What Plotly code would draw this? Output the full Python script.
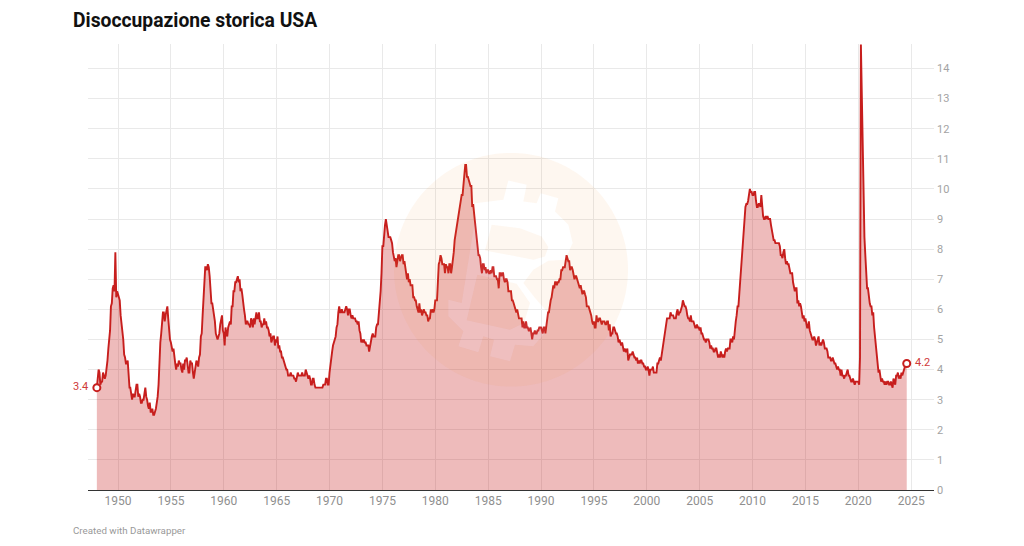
import numpy as np
import pandas as pd
import plotly.graph_objects as go

TITLE = "Disoccupazione storica USA"
CREDIT = "Created with Datawrapper"
START_MONTH = "1948-01-01"
RATE = [
3.4,3.8,4.0,3.9,3.5,3.6,3.6,3.9,3.8,3.7,3.8,4.0,
4.3,4.7,5.0,5.3,6.1,6.2,6.7,6.8,6.6,7.9,6.4,6.6,
6.5,6.4,6.3,5.8,5.5,5.4,5.0,4.5,4.4,4.2,4.2,4.3,
3.7,3.4,3.4,3.1,3.0,3.2,3.1,3.1,3.3,3.5,3.5,3.1,
3.2,3.1,2.9,2.9,3.0,3.0,3.2,3.4,3.1,3.0,2.8,2.7,
2.9,2.6,2.6,2.7,2.5,2.5,2.6,2.7,2.9,3.1,3.5,4.5,
4.9,5.2,5.7,5.9,5.9,5.6,5.8,6.0,6.1,5.7,5.3,5.0,
4.9,4.7,4.6,4.7,4.3,4.2,4.0,4.2,4.1,4.3,4.2,4.2,
4.0,3.9,4.2,4.0,4.3,4.3,4.4,4.1,3.9,3.9,4.3,4.2,
4.2,3.9,3.7,3.9,4.1,4.3,4.2,4.1,4.4,4.5,5.1,5.2,
5.8,6.4,6.7,7.4,7.4,7.3,7.5,7.4,7.1,6.7,6.2,6.2,
6.0,5.9,5.6,5.2,5.1,5.0,5.1,5.2,5.5,5.7,5.8,5.3,
5.2,4.8,5.4,5.2,5.1,5.4,5.5,5.6,5.5,6.1,6.1,6.6,
6.6,6.9,6.9,7.0,7.1,6.9,7.0,6.6,6.7,6.5,6.1,6.0,
5.8,5.5,5.6,5.6,5.5,5.5,5.4,5.7,5.6,5.4,5.7,5.5,
5.7,5.9,5.7,5.7,5.9,5.6,5.6,5.4,5.5,5.5,5.7,5.5,
5.6,5.4,5.4,5.3,5.1,5.2,4.9,5.0,5.1,5.1,4.8,5.0,
4.9,5.1,4.7,4.8,4.6,4.6,4.4,4.4,4.3,4.2,4.1,4.0,
4.0,3.8,3.8,3.8,3.9,3.8,3.8,3.8,3.7,3.7,3.6,3.8,
3.9,3.8,3.8,3.8,3.8,3.9,3.8,3.8,3.8,4.0,3.9,3.8,
3.7,3.8,3.7,3.5,3.5,3.7,3.7,3.5,3.4,3.4,3.4,3.4,
3.4,3.4,3.4,3.4,3.4,3.5,3.5,3.5,3.7,3.7,3.5,3.5,
3.9,4.2,4.4,4.6,4.8,4.9,5.0,5.1,5.4,5.5,5.9,6.1,
5.9,5.9,6.0,5.9,5.9,5.9,6.0,6.1,6.0,5.8,6.0,6.0,
5.8,5.7,5.8,5.7,5.7,5.7,5.6,5.6,5.5,5.6,5.3,5.2,
4.9,5.0,4.9,5.0,4.9,4.9,4.8,4.8,4.8,4.6,4.8,4.9,
5.1,5.2,5.1,5.1,5.1,5.4,5.5,5.5,5.9,6.0,6.6,7.2,
8.1,8.1,8.6,8.8,9.0,8.8,8.6,8.4,8.4,8.4,8.3,8.2,
7.9,7.7,7.6,7.7,7.4,7.6,7.8,7.8,7.6,7.7,7.8,7.8,
7.5,7.6,7.4,7.2,7.0,7.2,6.9,7.0,6.8,6.8,6.8,6.4,
6.4,6.3,6.3,6.1,6.0,5.9,6.2,5.9,6.0,5.8,5.9,6.0,
5.9,5.9,5.8,5.8,5.6,5.7,5.7,6.0,5.9,6.0,5.9,6.0,
6.3,6.3,6.3,6.9,7.5,7.6,7.8,7.7,7.5,7.5,7.5,7.2,
7.5,7.4,7.4,7.2,7.5,7.5,7.2,7.4,7.6,7.9,8.3,8.5,
8.6,8.9,9.0,9.3,9.4,9.6,9.8,9.8,10.1,10.4,10.8,10.8,
10.4,10.4,10.3,10.2,10.1,10.1,9.4,9.5,9.2,8.8,8.5,8.3,
8.0,7.8,7.8,7.7,7.4,7.2,7.5,7.5,7.3,7.4,7.2,7.3,
7.3,7.2,7.2,7.3,7.2,7.4,7.4,7.1,7.1,7.1,7.0,7.0,
6.7,7.2,7.2,7.1,7.2,7.2,7.0,6.9,7.0,7.0,6.9,6.6,
6.6,6.6,6.6,6.3,6.3,6.2,6.1,6.0,5.9,6.0,5.8,5.7,
5.7,5.7,5.7,5.4,5.6,5.4,5.4,5.6,5.4,5.4,5.3,5.3,
5.4,5.2,5.0,5.2,5.2,5.3,5.2,5.2,5.3,5.3,5.4,5.4,
5.4,5.3,5.2,5.4,5.4,5.2,5.5,5.7,5.9,5.9,6.2,6.3,
6.4,6.6,6.8,6.7,6.9,6.9,6.8,6.9,6.9,7.0,7.0,7.3,
7.3,7.4,7.4,7.4,7.6,7.8,7.7,7.6,7.6,7.3,7.4,7.4,
7.3,7.1,7.0,7.1,7.1,7.0,6.9,6.8,6.7,6.8,6.6,6.5,
6.6,6.6,6.5,6.4,6.1,6.1,6.1,6.0,5.9,5.8,5.6,5.5,
5.6,5.4,5.4,5.8,5.6,5.6,5.7,5.7,5.6,5.5,5.6,5.6,
5.6,5.5,5.5,5.6,5.6,5.3,5.5,5.1,5.2,5.2,5.4,5.4,
5.3,5.2,5.2,5.1,4.9,5.0,4.9,4.8,4.9,4.7,4.6,4.7,
4.6,4.6,4.7,4.3,4.4,4.5,4.5,4.5,4.6,4.5,4.4,4.4,
4.3,4.4,4.2,4.3,4.2,4.3,4.3,4.2,4.2,4.1,4.1,4.0,
4.0,4.1,4.0,3.8,4.0,4.0,4.0,4.1,3.9,3.9,3.9,3.9,
4.2,4.2,4.3,4.4,4.3,4.5,4.6,4.9,5.0,5.3,5.5,5.7,
5.7,5.7,5.7,5.9,5.8,5.8,5.8,5.7,5.7,5.7,5.9,6.0,
5.8,5.9,5.9,6.0,6.1,6.3,6.2,6.1,6.1,6.0,5.8,5.7,
5.7,5.6,5.8,5.6,5.6,5.6,5.5,5.4,5.4,5.5,5.4,5.4,
5.3,5.4,5.2,5.2,5.1,5.0,5.0,4.9,5.0,5.0,5.0,4.9,
4.7,4.8,4.7,4.7,4.6,4.6,4.7,4.7,4.5,4.4,4.5,4.4,
4.6,4.5,4.4,4.5,4.4,4.6,4.7,4.6,4.7,4.7,4.7,5.0,
5.0,4.9,5.1,5.0,5.4,5.6,5.8,6.1,6.1,6.5,6.8,7.3,
7.8,8.3,8.7,9.0,9.4,9.5,9.5,9.6,9.8,10.0,9.9,9.9,
9.8,9.8,9.9,9.9,9.6,9.4,9.4,9.5,9.5,9.4,9.8,9.3,
9.1,9.0,9.0,9.1,9.0,9.1,9.0,9.0,9.0,8.8,8.6,8.5,
8.3,8.3,8.2,8.2,8.2,8.2,8.2,8.1,7.8,7.8,7.7,7.9,
8.0,7.7,7.5,7.6,7.5,7.5,7.3,7.2,7.2,7.2,6.9,6.7,
6.6,6.7,6.7,6.2,6.3,6.1,6.2,6.1,5.9,5.7,5.8,5.6,
5.7,5.5,5.4,5.4,5.6,5.3,5.2,5.1,5.0,5.0,5.1,5.0,
4.8,4.9,5.0,5.1,4.8,4.9,4.8,4.9,5.0,4.9,4.7,4.7,
4.7,4.6,4.4,4.4,4.4,4.3,4.3,4.4,4.3,4.2,4.2,4.1,
4.0,4.1,4.0,4.0,3.8,4.0,3.8,3.8,3.7,3.8,3.8,3.9,
4.0,3.8,3.8,3.7,3.6,3.6,3.7,3.6,3.5,3.6,3.6,3.6,
3.6,3.5,4.4,14.8,13.2,11.0,10.2,8.4,7.8,6.9,6.7,6.7,
6.4,6.2,6.1,6.1,5.8,5.9,5.4,5.1,4.7,4.5,4.2,3.9,
4.0,3.8,3.6,3.7,3.6,3.6,3.5,3.6,3.5,3.6,3.6,3.5,
3.5,3.6,3.5,3.4,3.7,3.6,3.5,3.8,3.8,3.9,3.7,3.8,
3.7,3.9,3.8,3.9,4.0,4.1,4.2,4.2,
]
YEAR_TICKS = list(range(1950, 2026, 5))
Y_TICKS = list(range(0, 15))

RED = "#c71e1d"
GREY = "#8f8f8f"
GRID = "#e9e9e9"
W, H = 1024, 546
L, R, T, B = 88, 934, 44, 490.5

dates = pd.date_range(START_MONTH, periods=len(RATE), freq="MS")

fig = go.Figure()
fig.add_trace(go.Scatter(
    x=dates, y=RATE, mode="lines", fill="tozeroy",
    fillcolor="rgba(199,30,29,0.30)",
    line=dict(color=RED, width=1.9), hoverinfo="skip", showlegend=False))
fig.add_trace(go.Scatter(
    x=[dates[0], dates[-1]], y=[RATE[0], RATE[-1]], mode="markers",
    marker=dict(size=7, color="white", line=dict(color=RED, width=2)),
    hoverinfo="skip", showlegend=False))


def px(x, y):
    return (x - L) / (R - L), (B - y) / (B - T)


def sub(points):
    return "M" + "L".join("%.5f,%.5f" % px(x, y) for x, y in points) + "Z"


def z(points):
    return [(420 + a / 3, 160 + b / 3) for a, b in points]


# Faint coin watermark that sits over the chart
theta = np.linspace(0, 2 * np.pi, 180, endpoint=False)
ring = [(511 + 117 * np.cos(t), 270 + 117 * np.sin(t)) for t in theta]
glyph_outer = z([(165,130),(250,120),(265,62),(320,75),(310,125),(350,130),(362,100),(415,115),
                 (405,155),(445,195),(458,250),(435,300),(385,303),(340,330),(310,370),(345,415),
                 (385,460),(375,520),(340,560),(285,555),(270,605),(210,590),(222,540),(190,530),
                 (175,578),(115,560),(130,515),(85,470),(85,420),(125,430),(165,180)])
hole_a = z([(215,195),(300,205),(365,230),(385,262),(375,290),(340,300),(195,272)])
hole_b = z([(172,345),(290,372),(330,430),(312,490),(270,510),(140,482)])
glyph = sub(glyph_outer) + sub(hole_a) + sub(hole_b)

shapes = [
    dict(type="path", xref="paper", yref="paper", path=sub(ring) + glyph, layer="above",
         fillcolor="rgba(245,150,50,0.075)", line=dict(width=0)),
    dict(type="path", xref="paper", yref="paper", path=glyph, layer="above",
         fillcolor="rgba(255,255,255,0.07)", line=dict(width=0)),
]

annotations = [
    dict(x=dates[0], y=RATE[0], text=f"{RATE[0]}", xanchor="right", xshift=-7, yshift=1,
         showarrow=False, font=dict(color="#cf3b3a", size=11, family="Roboto")),
    dict(x=dates[-1], y=RATE[-1], text=f"{RATE[-1]}", xanchor="left", xshift=6, yshift=1,
         showarrow=False, font=dict(color="#cf3b3a", size=11, family="Roboto")),
    dict(xref="paper", yref="paper", x=px(71, 0)[0], y=px(0, 531)[1], text=CREDIT,
         xanchor="left", yanchor="middle", showarrow=False,
         font=dict(color="#999999", size=9.75, family="Roboto")),
]

fig.update_layout(
    width=W, height=H, autosize=False,
    margin=dict(l=L, r=W - R, t=T, b=H - B, pad=0),
    paper_bgcolor="white", plot_bgcolor="white",
    title=dict(text=f"<b>{TITLE}</b>", x=73 / W, xanchor="left", xref="container",
               y=1 - 20 / H, yanchor="middle", yref="container",
               font=dict(family="Roboto", size=19.3, color="#111111")),
    font=dict(family="Roboto", color=GREY, size=11),
    shapes=shapes, annotations=annotations, showlegend=False,
)
fig.update_xaxes(
    type="date", range=["1947-03-01", "2027-03-01"],
    tickmode="array", tickvals=[f"{y}-01-01" for y in YEAR_TICKS], ticktext=[str(y) for y in YEAR_TICKS],
    showgrid=True, gridcolor=GRID, gridwidth=1, zeroline=False,
    showline=True, linecolor="#333333", linewidth=1, ticks="", tickfont=dict(size=12, color=GREY),
)
fig.update_yaxes(
    range=[0, (B - T) / 30.14], side="right", tickmode="array", tickvals=Y_TICKS,
    showgrid=True, gridcolor=GRID, gridwidth=1, zeroline=False, showline=False,
    ticks="", ticklabelstandoff=2, tickfont=dict(size=11, color="#a3a3a3"),
)

fig.write_html("out.html", post_script="document.body.style.margin='0';", config={"displayModeBar": False})
